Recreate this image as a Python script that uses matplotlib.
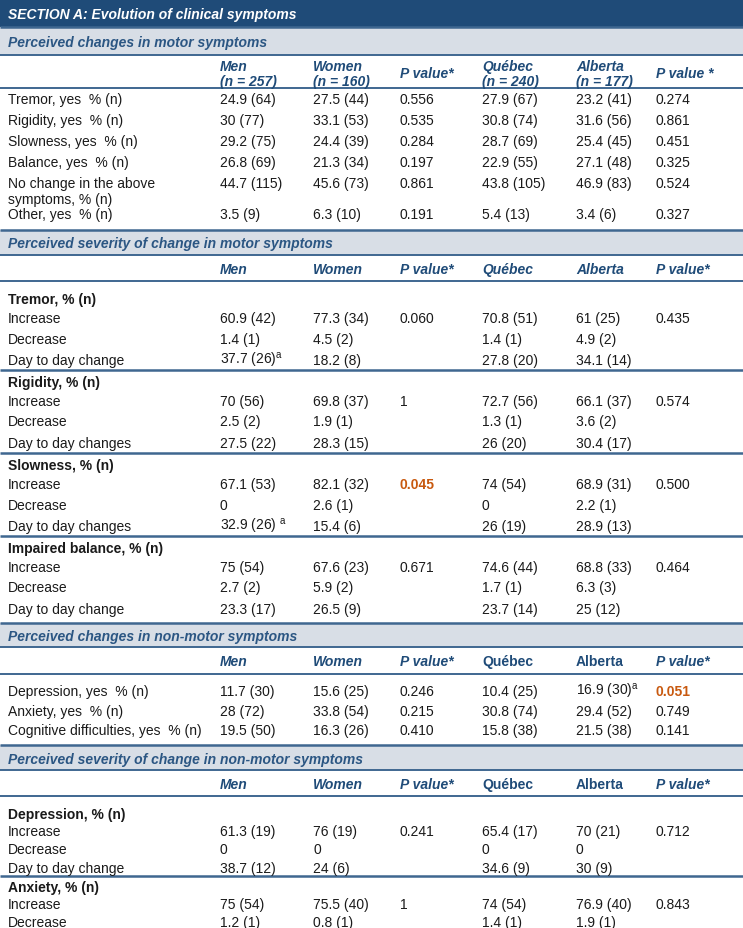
import matplotlib.pyplot as plt
from matplotlib.patches import Rectangle

plt.rcParams['font.family'] = ['Liberation Sans', 'DejaVu Sans']
plt.rcParams['mathtext.fontset'] = 'custom'
plt.rcParams['mathtext.rm'] = 'Liberation Sans'

# ---- data ----
title = "SECTION A: Evolution of clinical symptoms"
band_titles = ["Perceived changes in motor symptoms",
               "Perceived severity of change in motor symptoms",
               "Perceived changes in non-motor symptoms",
               "Perceived severity of change in non-motor symptoms"]

header_first = ["Men\n(n = 257)", "Women\n(n = 160)", "P value*",
                "Québec\n(n = 240)", "Alberta\n(n = 177)", "P value *"]
header_short = ["Men", "Women", "P value*", "Québec", "Alberta", "P value*"]

highlighted = ["0.045", "0.051"]

motor_labels = ["Tremor, yes  % (n)", "Rigidity, yes  % (n)", "Slowness, yes  % (n)",
                "Balance, yes  % (n)", "No change in the above\nsymptoms, % (n)", "Other, yes  % (n)"]
motor_men = ["24.9 (64)", "30 (77)", "29.2 (75)", "26.8 (69)", "44.7 (115)", "3.5 (9)"]
motor_women = ["27.5 (44)", "33.1 (53)", "24.4 (39)", "21.3 (34)", "45.6 (73)", "6.3 (10)"]
motor_p_sex = ["0.556", "0.535", "0.284", "0.197", "0.861", "0.191"]
motor_quebec = ["27.9 (67)", "30.8 (74)", "28.7 (69)", "22.9 (55)", "43.8 (105)", "5.4 (13)"]
motor_alberta = ["23.2 (41)", "31.6 (56)", "25.4 (45)", "27.1 (48)", "46.9 (83)", "3.4 (6)"]
motor_p_prov = ["0.274", "0.861", "0.451", "0.325", "0.524", "0.327"]

sev_groups = ["Tremor, % (n)", "Rigidity, % (n)", "Slowness, % (n)", "Impaired balance, % (n)"]
sev_rows = [["Increase", "Decrease", "Day to day change"],
            ["Increase", "Decrease", "Day to day changes"],
            ["Increase", "Decrease", "Day to day changes"],
            ["Increase", "Decrease", "Day to day change"]]
sev_men = [["60.9 (42)", "1.4 (1)", r"37.7 (26)$^{\mathrm{a}}$"],
           ["70 (56)", "2.5 (2)", "27.5 (22)"],
           ["67.1 (53)", "0", r"32.9 (26) $^{\mathrm{a}}$"],
           ["75 (54)", "2.7 (2)", "23.3 (17)"]]
sev_women = [["77.3 (34)", "4.5 (2)", "18.2 (8)"],
             ["69.8 (37)", "1.9 (1)", "28.3 (15)"],
             ["82.1 (32)", "2.6 (1)", "15.4 (6)"],
             ["67.6 (23)", "5.9 (2)", "26.5 (9)"]]
sev_p_sex = ["0.060", "1", "0.045", "0.671"]
sev_quebec = [["70.8 (51)", "1.4 (1)", "27.8 (20)"],
              ["72.7 (56)", "1.3 (1)", "26 (20)"],
              ["74 (54)", "0", "26 (19)"],
              ["74.6 (44)", "1.7 (1)", "23.7 (14)"]]
sev_alberta = [["61 (25)", "4.9 (2)", "34.1 (14)"],
               ["66.1 (37)", "3.6 (2)", "30.4 (17)"],
               ["68.9 (31)", "2.2 (1)", "28.9 (13)"],
               ["68.8 (33)", "6.3 (3)", "25 (12)"]]
sev_p_prov = ["0.435", "0.574", "0.500", "0.464"]

nm_labels = ["Depression, yes  % (n)", "Anxiety, yes  % (n)", "Cognitive difficulties, yes  % (n)"]
nm_men = ["11.7 (30)", "28 (72)", "19.5 (50)"]
nm_women = ["15.6 (25)", "33.8 (54)", "16.3 (26)"]
nm_p_sex = ["0.246", "0.215", "0.410"]
nm_quebec = ["10.4 (25)", "30.8 (74)", "15.8 (38)"]
nm_alberta = [r"16.9 (30)$^{\mathrm{a}}$", "29.4 (52)", "21.5 (38)"]
nm_p_prov = ["0.051", "0.749", "0.141"]

nms_groups = ["Depression, % (n)", "Anxiety, % (n)"]
nms_rows = [["Increase", "Decrease", "Day to day change"], ["Increase", "Decrease"]]
nms_men = [["61.3 (19)", "0", "38.7 (12)"], ["75 (54)", "1.2 (1)"]]
nms_women = [["76 (19)", "0", "24 (6)"], ["75.5 (40)", "0.8 (1)"]]
nms_p_sex = ["0.241", "1"]
nms_quebec = [["65.4 (17)", "0", "34.6 (9)"], ["74 (54)", "1.4 (1)"]]
nms_alberta = [["70 (21)", "0", "30 (9)"], ["76.9 (40)", "1.9 (1)"]]
nms_p_prov = ["0.712", "0.843"]

# ---- style ----
W, H = 743, 929
dark = '#1F4B78'
band_bg = '#D8DEE6'
band_fg = '#2B5683'
line_c = '#3F6790'
txt = '#1A1A1A'
orange = '#C8590F'
fs = 10
col_x = [220, 313, 400, 482, 576, 656]
label_x = 8
base = 5  # baseline offset below the visual row centre

fig = plt.figure(figsize=(W / 100, H / 100), dpi=100)
ax = fig.add_axes([0, 0, 1, 1])
ax.set_xlim(0, W)
ax.set_ylim(H, 0)
ax.axis('off')


def put(x, y, s, **kw):
    kw.setdefault('color', txt)
    ax.text(x, round(y + base), s, fontsize=fs, va='baseline', **kw)


def hline(y, lw=1.4, c=line_c):
    ax.plot([0, W], [y, y], color=c, lw=lw, solid_capstyle='butt')


def band(y, h, text):
    ax.add_patch(Rectangle((0, y), W, h, color=band_bg, lw=0))
    hline(y, 1.8)
    hline(y + h, 1.4)
    put(label_x, y + h / 2, text, fontweight='bold', fontstyle='italic', color=band_fg)
    return y + h


def header(y, labels, h, italic_prov=True):
    for i, (x, lab) in enumerate(zip(col_x, labels)):
        style = 'italic' if (italic_prov or i not in (3, 4)) else 'normal'
        parts = lab.split('\n')
        if len(parts) == 2:
            put(x, y + h / 2 - 6.5, parts[0], fontweight='bold', fontstyle=style, color=dark)
            put(x, y + h / 2 + 8.5, parts[1], fontweight='bold', fontstyle=style, color=dark)
        else:
            put(x, y + h / 2, lab, fontweight='bold', fontstyle=style, color=dark)
    hline(y + h, 1.4)
    return y + h


def cells(y, vals):
    for x, v in zip(col_x, vals):
        if v is None:
            continue
        hot = v in highlighted
        put(x, y, v, color=orange if hot else txt, fontweight='bold' if hot else 'normal')


def groups(y, names, rows, men, women, psex, que, alb, pprov,
           first_gap, steps, line_gap, sep_gap):
    for g, name in enumerate(names):
        cy = y + (first_gap if g == 0 else sep_gap)
        put(label_x, cy, name, fontweight='bold')
        for r, lab in enumerate(rows[g]):
            cy += steps[r]
            put(label_x, cy, lab)
            cells(cy, [men[g][r], women[g][r], psex[g] if r == 0 else None,
                       que[g][r], alb[g][r], pprov[g] if r == 0 else None])
        if g < len(names) - 1:
            y = cy + line_gap
            hline(y, 1.8)
    return cy


# title bar
ax.add_patch(Rectangle((0, 0), W, 28, color=dark, lw=0))
put(label_x, 14, title, fontweight='bold', fontstyle='italic', color='white')

# table 1: perceived changes in motor symptoms
y = band(28, 28, band_titles[0])
y = header(y, header_first, 33)
cy = y + 10
for i, lab in enumerate(motor_labels):
    parts = lab.split('\n')
    put(label_x, cy, parts[0])
    if len(parts) == 2:
        put(label_x, cy + 15.5, parts[1])
    cells(cy, [motor_men[i], motor_women[i], motor_p_sex[i],
               motor_quebec[i], motor_alberta[i], motor_p_prov[i]])
    cy += 31 if len(parts) == 2 else 21

# table 2: severity of motor symptoms
y = band(cy - 21 + 16.5, 25, band_titles[1])
y = header(y, header_short, 26.5)
cy = groups(y, sev_groups, sev_rows, sev_men, sev_women, sev_p_sex,
            sev_quebec, sev_alberta, sev_p_prov, 17, [19, 20.5, 21.5], 11, 11)

# table 3: non-motor symptoms
y = band(cy + 15, 24, band_titles[2])
y = header(y, header_short, 27, italic_prov=False)
for i, lab in enumerate(nm_labels):
    cy = y + 16 + i * 19.5
    put(label_x, cy, lab)
    cells(cy, [nm_men[i], nm_women[i], nm_p_sex[i], nm_quebec[i], nm_alberta[i], nm_p_prov[i]])

# table 4: severity of non-motor symptoms
y = band(cy + 16, 25, band_titles[3])
y = header(y, header_short, 26, italic_prov=False)
groups(y, nms_groups, nms_rows, nms_men, nms_women, nms_p_sex,
       nms_quebec, nms_alberta, nms_p_prov, 17, [17, 18, 19], 9, 10)

fig.savefig('out.png', dpi=100)
